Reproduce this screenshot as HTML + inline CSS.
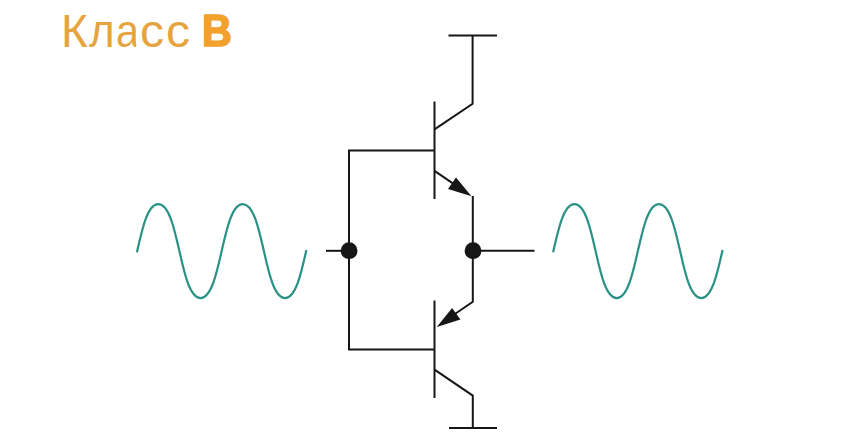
<!DOCTYPE html>
<html><head><meta charset="utf-8">
<style>
html,body{margin:0;padding:0;background:#fff;width:850px;height:437px;overflow:hidden}
.g{position:absolute;top:1px;font-family:"Liberation Sans",sans-serif;font-size:46px;line-height:60px;color:#e6a43e;white-space:nowrap;transform-origin:0 0}
.bb{color:#f2a22c;font-weight:bold;-webkit-text-stroke:1.6px #f2a22c}
svg{position:absolute;left:0;top:0}
</style></head><body>
<svg width="850" height="437" viewBox="0 0 850 437">
<g fill="none" stroke="#161616" stroke-width="2" stroke-linecap="butt" stroke-linejoin="miter">
<!-- top supply -->
<path d="M448.5 35.5 H497"/>
<path d="M472.6 35.5 V103.8 L434.5 129.3"/>
<!-- top transistor base bar -->
<path d="M434.5 101.5 V199"/>
<!-- base wire -->
<path d="M434.5 150.5 H349 V349.5 H434.5"/>
<path d="M326 250.8 H349"/>
<!-- top emitter -->
<path d="M434.5 170.8 L462 189.6"/>
<path d="M472.8 196 V301.7 L445 320.8"/>
<path d="M472.8 250.8 H534.5"/>
<!-- bottom transistor -->
<path d="M434.5 300.5 V398"/>
<path d="M434.5 369.6 L472.8 395.6 V428"/>
<path d="M449 428 H497"/>
</g>
<g fill="#161616" stroke="none">
<circle cx="349.1" cy="250.7" r="8.4"/>
<circle cx="473" cy="250.7" r="8.4"/>
<path d="M471.5 196.2 L448 189 L456 177.6 Z"/>
<path d="M436.8 327 L452.1 308.1 L460.4 319.5 Z"/>
</g>
<g fill="none" stroke="#2a9186" stroke-width="2.2">
<path d="M136.90 252.23 C142.26 228.36 147.54 204.10 158.28 204.10 C179.40 204.10 179.40 298.10 200.53 298.10 C221.65 298.10 221.65 204.10 242.78 204.10 C263.90 204.10 263.90 298.10 285.02 298.10 C295.76 298.10 301.04 273.84 306.40 249.97"/>
<path d="M553.10 252.23 C558.46 228.36 563.74 204.10 574.48 204.10 C595.60 204.10 595.60 298.10 616.73 298.10 C637.85 298.10 637.85 204.10 658.98 204.10 C680.10 204.10 680.10 298.10 701.23 298.10 C711.96 298.10 717.24 273.84 722.60 249.97"/>
</g>
</svg>
<span class="g" style="left:61px">К</span>
<span class="g" style="left:89.1px;transform:scaleX(0.955)">л</span>
<span class="g" style="left:115.84px;transform:scaleX(0.9);clip-path:polygon(0 0,22.4px 0,22.4px 100%,0 100%)">а</span>
<span class="g" style="left:140.3px;transform:scaleX(1.045)">с</span>
<span class="g" style="left:166px;transform:scaleX(1.045)">с</span>
<span class="g bb" style="left:202px;font-size:44px;transform:scaleX(0.94)">B</span>
</body></html>
